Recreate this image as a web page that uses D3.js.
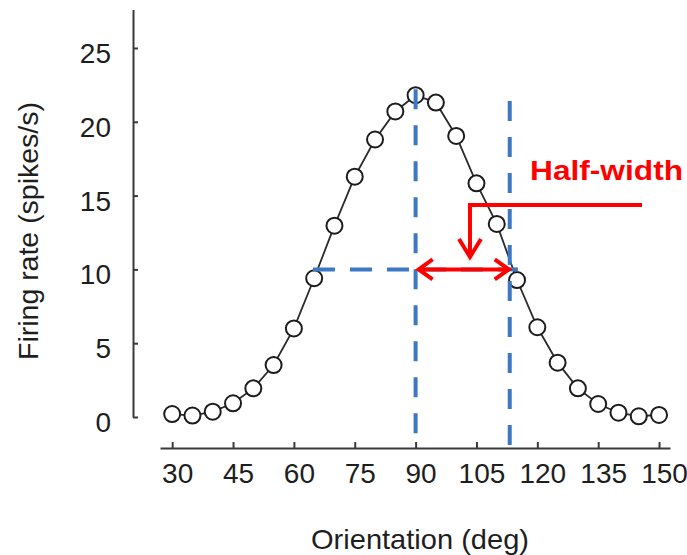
<!DOCTYPE html>
<html>
<head>
<meta charset="utf-8">
<script src="https://cdn.jsdelivr.net/npm/d3@7"></script>
<style>
  html, body { margin: 0; padding: 0; background: #fff; }
  svg { display: block; }
  text { font-family: "Liberation Sans", Arial, Helvetica, sans-serif; fill: #1e1e1e; }
</style>
</head>
<body>
<svg id="chart" width="687" height="555"></svg>
<script>
// Orientation tuning curve: mean firing rate at each stimulus orientation
const orientations = [30, 35, 40, 45, 50, 55, 60, 65, 70, 75, 80, 85, 90,
                      95, 100, 105, 110, 115, 120, 125, 130, 135, 140, 145, 150];
const firingRates  = [0.2, 0.1, 0.36, 0.93, 1.94, 3.52, 6.0, 9.4, 12.96, 16.28, 18.8, 20.7, 21.8,
                      21.3, 19.04, 15.83, 13.08, 9.28, 6.08, 3.68, 1.94, 0.88, 0.29, 0.05, 0.14];
const xTicks = [30, 45, 60, 75, 90, 105, 120, 135, 150];
const yTicks = [0, 5, 10, 15, 20, 25];

// Half-width annotation values
const peakOrientation = 90;
const peakGuideTop = 22.2;
const halfOrientation = 113.2;
const halfGuideTop = 21.4;
const halfRate = 10;
const halfGuideStart = 64.7;
const halfGuideEnd = 115.2;
// Callout arrow (orientation, rate) corners and label anchor
const calloutPath = [[145.8, 14.36], [103.4, 14.36], [103.4, 10.84]];
const calloutLabel = { text: "Half-width", orientation: 118.2, rate: 16.05 };

const svg = d3.select("#chart");

const x = d3.scaleLinear().domain([27, 152.7]).range([160, 670]);
const y = d3.scaleLinear().domain([0, 27.6]).range([417, 9.6]);
const xAxisY = 448;
const yAxisX = 133;

const axisColor = "#3a3a3a";
const blue = "#3d78c4";
const red = "#ff0000";

// Y axis: ticks point inward, line runs up past the last tick
const yAxis = svg.append("g")
  .attr("transform", `translate(${yAxisX},0)`)
  .call(d3.axisLeft(y).tickValues(yTicks).tickSizeInner(-5).tickSizeOuter(0).tickPadding(22));
yAxis.select(".domain").attr("stroke", axisColor).attr("stroke-width", 2);
yAxis.selectAll(".tick line").attr("stroke", axisColor).attr("stroke-width", 2);
yAxis.selectAll(".tick text")
  .attr("font-size", 28)
  .attr("dy", "0.52em")
  .style("font-family", '"Liberation Sans", Arial, sans-serif')
  .attr("fill", "#1e1e1e");

// X axis: detached baseline below the data
const xAxis = svg.append("g")
  .attr("transform", `translate(0,${xAxisY})`)
  .call(d3.axisBottom(x).tickValues(xTicks).tickSizeInner(-6).tickSizeOuter(0).tickPadding(15));
xAxis.select(".domain").attr("stroke", axisColor).attr("stroke-width", 2);
xAxis.selectAll(".tick line").attr("stroke", axisColor).attr("stroke-width", 2);
xAxis.selectAll(".tick text")
  .attr("font-size", 28)
  .attr("dx", 5)
  .attr("dy", "0.71em")
  .style("font-family", '"Liberation Sans", Arial, sans-serif')
  .attr("fill", "#1e1e1e");

// Axis titles
svg.append("text")
  .attr("x", 420).attr("y", 549)
  .attr("text-anchor", "middle")
  .attr("font-size", 28)
  .attr("textLength", 218).attr("lengthAdjust", "spacingAndGlyphs")
  .text("Orientation (deg)");

svg.append("text")
  .attr("transform", "translate(38,231) rotate(-90)")
  .attr("text-anchor", "middle")
  .attr("font-size", 28)
  .attr("textLength", 258).attr("lengthAdjust", "spacingAndGlyphs")
  .text("Firing rate (spikes/s)");

// Tuning curve line and markers
const points = orientations.map((o, i) => ({ o, r: firingRates[i] }));

svg.append("path")
  .datum(points)
  .attr("fill", "none")
  .attr("stroke", "#2a2a2a")
  .attr("stroke-width", 1.8)
  .attr("d", d3.line().x(d => x(d.o)).y(d => y(d.r)));

svg.append("g")
  .selectAll("circle")
  .data(points)
  .join("circle")
  .attr("cx", d => x(d.o))
  .attr("cy", d => y(d.r))
  .attr("r", 8)
  .attr("fill", "#fff")
  .attr("stroke", "#1c1c1c")
  .attr("stroke-width", 2);

// Dashed guides: peak, half-maximum level, and half-maximum crossing
const guides = svg.append("g")
  .attr("stroke", blue)
  .attr("stroke-width", 4)
  .attr("fill", "none");

guides.append("line")
  .attr("x1", x(peakOrientation)).attr("x2", x(peakOrientation))
  .attr("y1", y(peakGuideTop)).attr("y2", xAxisY)
  .attr("stroke-dasharray", "20,16");

guides.append("line")
  .attr("x1", x(halfOrientation)).attr("x2", x(halfOrientation))
  .attr("y1", y(halfGuideTop)).attr("y2", xAxisY)
  .attr("stroke-dasharray", "20,16");

guides.append("line")
  .attr("x1", x(halfGuideStart)).attr("x2", x(halfGuideEnd))
  .attr("y1", y(halfRate)).attr("y2", y(halfRate))
  .attr("stroke-dasharray", "22,15");

// Red half-width annotation
const ann = svg.append("g")
  .attr("stroke", red)
  .attr("stroke-width", 4)
  .attr("fill", "none")
  .attr("stroke-linejoin", "miter");

const hy = y(halfRate);
const xl = x(peakOrientation) + 3;
const xr = x(halfOrientation) - 1;
ann.append("line").attr("x1", xl).attr("x2", xr).attr("y1", hy).attr("y2", hy);
ann.append("path").attr("d", `M${xl + 14},${hy - 10}L${xl},${hy}L${xl + 14},${hy + 10}`);
ann.append("path").attr("d", `M${xr - 14},${hy - 10}L${xr},${hy}L${xr - 14},${hy + 10}`);

const calloutLine = d3.line().x(d => x(d[0])).y(d => y(d[1]));
ann.append("path").attr("d", calloutLine(calloutPath));
const tip = calloutPath[calloutPath.length - 1];
const tx = x(tip[0]), ty = y(tip[1]);
ann.append("path").attr("d", `M${tx - 11},${ty - 18}L${tx},${ty}L${tx + 11},${ty - 18}`);

svg.append("text")
  .attr("x", x(calloutLabel.orientation))
  .attr("y", y(calloutLabel.rate))
  .attr("font-size", 28)
  .attr("font-weight", "bold")
  .attr("fill", red)
  .style("fill", red)
  .attr("textLength", 153).attr("lengthAdjust", "spacingAndGlyphs")
  .text(calloutLabel.text);
</script>
</body>
</html>
